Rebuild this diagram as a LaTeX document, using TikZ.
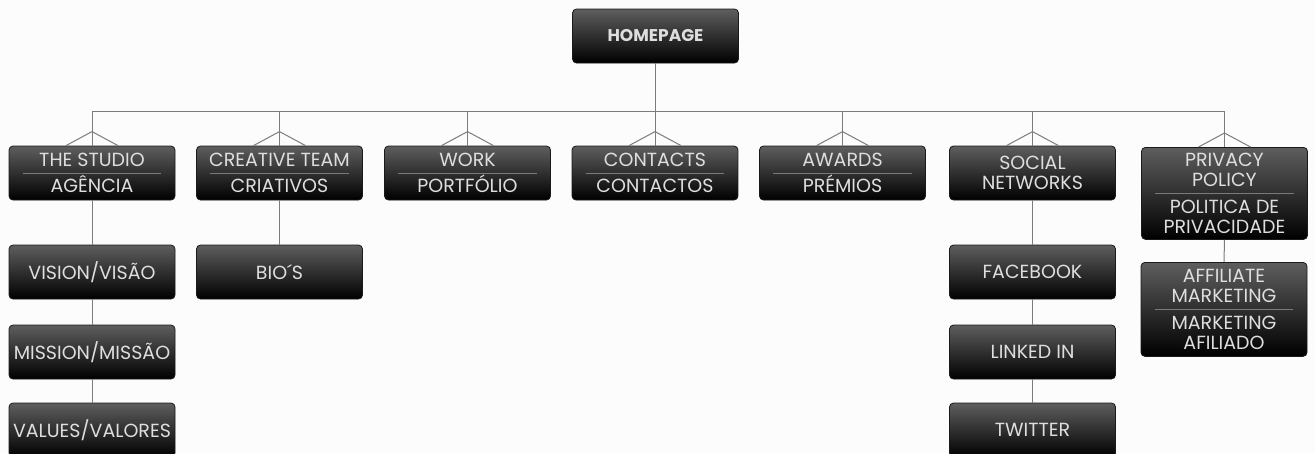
\documentclass[tikz,border=0pt]{standalone}
\usepackage{fontspec}
\newfontfamily\boxfont{Poppins}
\usetikzlibrary{calc}
\definecolor{boxtop}{HTML}{5E5E5E}
\definecolor{boxmid}{HTML}{262626}
\definecolor{boxbot}{HTML}{000000}
\definecolor{boxedge}{HTML}{1A1A1A}
\definecolor{txtc}{HTML}{DEDEDE}
\definecolor{divc}{HTML}{7A7A7A}
\definecolor{linec}{HTML}{7C7C7C}
\definecolor{bgc}{HTML}{FCFCFC}
\tikzset{
  pagebox/.style={rectangle, rounded corners=4pt, draw=boxedge, line width=0.8pt,
    top color=boxtop, middle color=boxmid, bottom color=boxbot,
    minimum width=166pt, minimum height=54pt, inner sep=0pt, align=center,
    text=txtc, font=\boxfont\fontsize{19}{26}\selectfont},
  tallbox/.style={pagebox, minimum height=92pt, font=\boxfont\fontsize{19}{20}\selectfont},
  twoline/.style={pagebox, font=\boxfont\fontsize{19}{20}\selectfont},
  homebox/.style={pagebox, font=\boxfont\bfseries\fontsize{17}{20}\selectfont},
  conn/.style={draw=linec, line width=1pt},
  divider/.style={draw=divc, line width=0.8pt}
}
\begin{document}
\begin{tikzpicture}[x=1pt,y=-1pt]
\fill[bgc] (0,0) rectangle (1315,453);
\useasboundingbox (0,0) rectangle (1315,453);
\coordinate (bus) at (0,111);
% nodes
\node[homebox] (home) at (655.5,36) {HOMEPAGE};
\node[pagebox] (studio) at (92,173) {THE STUDIO\\AGÊNCIA};
\node[pagebox] (creative) at (279.5,173) {CREATIVE TEAM\\CRIATIVOS};
\node[pagebox] (work) at (467.5,173) {WORK\\PORTFÓLIO};
\node[pagebox] (contacts) at (655,173) {CONTACTS\\CONTACTOS};
\node[pagebox] (awards) at (842.5,173) {AWARDS\\PRÉMIOS};
\node[twoline] (social) at (1032.5,173) {SOCIAL\\NETWORKS};
\node[tallbox, anchor=north] (privacy) at (1224.5,147) {PRIVACY\\POLICY\\[7pt]POLITICA DE\\PRIVACIDADE};
\node[pagebox] (vision) at (92,272) {VISION/VISÃO};
\node[pagebox] (mission) at (92,352) {MISSION/MISSÃO};
\node[pagebox] (values) at (92,430) {VALUES/VALORES};
\node[pagebox] (bios) at (279.5,272) {BIO´S};
\node[pagebox] (facebook) at (1032.5,272) {FACEBOOK};
\node[pagebox] (linkedin) at (1032.5,352) {LINKED IN};
\node[pagebox] (twitter) at (1032.5,430) {TWITTER};
\node[tallbox, minimum height=94pt, anchor=north] (affiliate) at (1224,262) {AFFILIATE\\MARKETING\\[7pt]MARKETING\\AFILIADO};
% dividers
\foreach \n in {studio,creative,work,contacts,awards,privacy,affiliate}{
  \draw[divider] ($(\n.west)+(14,0)$) -- ($(\n.east)+(-14,0)$);
}
% connectors
\draw[conn] (home.south) -- (home.south |- bus);
\draw[conn] (studio.north |- bus) -- (privacy.north |- bus);
\foreach \n in {studio,creative,work,contacts,awards,social,privacy}{
  \draw[conn] (\n.north |- bus) -- (\n.north);
  \draw[conn] ($(\n.north)+(-26,0)$) -- ($(\n.north)+(0,-14)$) -- ($(\n.north)+(26,0)$);
}
\draw[conn] (studio.south) -- (vision.north);
\draw[conn] (vision.south) -- (mission.north);
\draw[conn] (mission.south) -- (values.north);
\draw[conn] (creative.south) -- (bios.north);
\draw[conn] (social.south) -- (facebook.north);
\draw[conn] (facebook.south) -- (linkedin.north);
\draw[conn] (linkedin.south) -- (twitter.north);
\draw[conn] (privacy.south) -- (affiliate.north);
\end{tikzpicture}
\end{document}
